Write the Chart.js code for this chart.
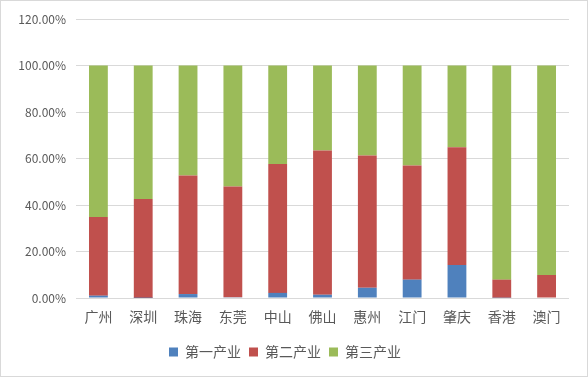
<!DOCTYPE html>
<html>
<head>
<meta charset="utf-8">
<script src="https://cdn.jsdelivr.net/npm/chart.js@4/dist/chart.umd.min.js"></script>
<style>
    html, body { margin: 0; padding: 0; background: #fff; }
    .frame {
        width: 588px;
        height: 377px;
        box-sizing: border-box;
        border: 1px solid #d9d9d9;
        position: relative;
    }
    canvas { display: block; }
</style>
</head>
<body>
<div class="frame">
    <canvas id="industryChart" width="586" height="375"></canvas>
</div>
<script>
// ===========================
// Data (percent of GDP)
// ===========================
const cities = ['广州', '深圳', '珠海', '东莞', '中山', '佛山', '惠州', '江门', '肇庆', '香港', '澳门'];
const primaryShare = [1.0, 0.04, 1.7, 0.3, 2.2, 1.4, 4.4, 7.9, 14.2, 0.1, 0.0];
const secondaryShare = [33.8, 42.5, 51.0, 47.7, 55.4, 62.0, 56.9, 49.1, 50.6, 7.8, 9.9];
const tertiaryShare = [65.2, 57.5, 47.3, 52.0, 42.4, 36.6, 38.7, 43.0, 35.2, 92.1, 90.1];
const seriesNames = ['第一产业', '第二产业', '第三产业'];
const yTicks = [0, 20, 40, 60, 80, 100, 120];

const fontFamily = "'Noto Sans CJK SC', 'DejaVu Sans', sans-serif";
const textColor = '#595959';

// ===========================
// Stacked Column Chart
// ===========================
const ctx = document.getElementById('industryChart').getContext('2d');
const industryChart = new Chart(ctx, {
    type: 'bar',
    data: {
        labels: cities,
        datasets: [
            { label: seriesNames[0], data: primaryShare, backgroundColor: '#4f81bd' },
            { label: seriesNames[1], data: secondaryShare, backgroundColor: '#c0504d' },
            { label: seriesNames[2], data: tertiaryShare, backgroundColor: '#9bbb59' }
        ]
    },
    options: {
        responsive: false,
        animation: false,
        datasets: {
            bar: {
                categoryPercentage: 1.0,
                barPercentage: 0.42
            }
        },
        layout: {
            padding: { left: 0, right: 18, top: 18, bottom: 7 }
        },
        plugins: {
            tooltip: { enabled: false },
            legend: {
                position: 'bottom',
                labels: {
                    boxWidth: 9,
                    boxHeight: 9,
                    padding: 8,
                    color: textColor,
                    font: { family: fontFamily, size: 14 }
                }
            }
        },
        scales: {
            x: {
                stacked: true,
                grid: { display: false, drawTicks: false },
                border: { display: false },
                ticks: {
                    color: textColor,
                    padding: 10,
                    maxRotation: 0,
                    font: { family: fontFamily, size: 14 }
                },
                afterFit: scale => { scale.height = 39; }
            },
            y: {
                stacked: true,
                min: 0,
                max: 120,
                afterBuildTicks: scale => {
                    scale.ticks = yTicks.map(v => ({ value: v }));
                },
                grid: { color: '#d9d9d9', drawTicks: false },
                border: { display: false },
                ticks: {
                    color: textColor,
                    padding: 10,
                    font: { family: fontFamily, size: 12 },
                    callback: v => v.toFixed(2) + '%'
                },
                afterFit: scale => { scale.width = 75; }
            }
        }
    }
});
</script>
</body>
</html>
